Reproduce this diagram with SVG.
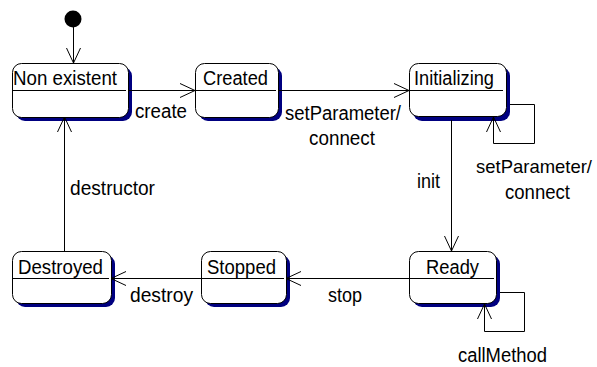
<svg xmlns="http://www.w3.org/2000/svg" width="597" height="367" viewBox="0 0 597 367">
<defs>
<style>
.box{fill:#fff;stroke:#000;stroke-width:1}
.shadow{fill:#000080;stroke:none}
.div{stroke:#000;stroke-width:1}
.t{font-family:"Liberation Sans",Arial,sans-serif;font-size:20px;fill:#000}
.c{fill:none;stroke:#000;stroke-width:1}
</style>
<marker id="arr" viewBox="0 0 16 16" refX="15" refY="8" markerWidth="16" markerHeight="16" markerUnits="userSpaceOnUse" orient="auto">
<path d="M0,1 L15,8 L0,15" fill="none" stroke="#000" stroke-width="1"/>
</marker>
</defs>
<rect width="597" height="367" fill="#fff"/>
<g id="initial">
<circle cx="73" cy="19" r="8.5" fill="#000"/>
</g>
<g id="nonexistent">
<rect class="shadow" x="16" y="67" width="116" height="54" rx="9"/>
<rect class="box" x="12.5" y="63.5" width="116" height="54" rx="9"/>
<line class="div" x1="12.5" y1="90.5" x2="126" y2="90.5"/>
<text class="t" x="13" y="85" textLength="104" lengthAdjust="spacingAndGlyphs">Non existent</text>
</g>
<g id="created">
<rect class="shadow" x="199" y="67" width="83" height="54" rx="9"/>
<rect class="box" x="195.5" y="63.5" width="83" height="54" rx="9"/>
<line class="div" x1="195.5" y1="90.5" x2="276" y2="90.5"/>
<text class="t" x="203" y="85" textLength="65" lengthAdjust="spacingAndGlyphs">Created</text>
</g>
<g id="initializing">
<rect class="shadow" x="413" y="67" width="97" height="54" rx="9"/>
<rect class="box" x="409.5" y="63.5" width="97" height="53" rx="9"/>
<line class="div" x1="409.5" y1="90.5" x2="503" y2="90.5"/>
<text class="t" x="414" y="85" textLength="80" lengthAdjust="spacingAndGlyphs">Initializing</text>
</g>
<g id="destroyed">
<rect class="shadow" x="16" y="255" width="99" height="52" rx="9"/>
<rect class="box" x="12.5" y="251.5" width="99" height="52" rx="9"/>
<line class="div" x1="12.5" y1="278.5" x2="109" y2="278.5"/>
<text class="t" x="18" y="274" textLength="85" lengthAdjust="spacingAndGlyphs">Destroyed</text>
</g>
<g id="stopped">
<rect class="shadow" x="205" y="255" width="85" height="52" rx="9"/>
<rect class="box" x="201.5" y="251.5" width="85" height="52" rx="9"/>
<line class="div" x1="201.5" y1="278.5" x2="284" y2="278.5"/>
<text class="t" x="207" y="274" textLength="69" lengthAdjust="spacingAndGlyphs">Stopped</text>
</g>
<g id="ready">
<rect class="shadow" x="413" y="255" width="87" height="52" rx="9"/>
<rect class="box" x="409.5" y="251.5" width="87" height="52" rx="9"/>
<line class="div" x1="409.5" y1="278.5" x2="494" y2="278.5"/>
<text class="t" x="426" y="274" textLength="53" lengthAdjust="spacingAndGlyphs">Ready</text>
</g>
<g id="connectors">
<line class="c" x1="73.5" y1="27" x2="73.5" y2="63" marker-end="url(#arr)"/>
<line class="c" x1="128" y1="90.5" x2="195" y2="90.5" marker-end="url(#arr)"/>
<line class="c" x1="278" y1="90.5" x2="409" y2="90.5" marker-end="url(#arr)"/>
<line class="c" x1="451.5" y1="120" x2="451.5" y2="251" marker-end="url(#arr)"/>
<polyline class="c" points="510,104.5 534.5,104.5 534.5,143.5 493.5,143.5 493.5,117" marker-end="url(#arr)"/>
<polyline class="c" points="500,292.5 524.5,292.5 524.5,331.5 484.5,331.5 484.5,304" marker-end="url(#arr)"/>
<line class="c" x1="409" y1="278.5" x2="286" y2="278.5" marker-end="url(#arr)"/>
<line class="c" x1="201" y1="278.5" x2="111" y2="278.5" marker-end="url(#arr)"/>
<line class="c" x1="64.5" y1="251" x2="64.5" y2="117" marker-end="url(#arr)"/>
</g>
<g id="labels">
<text class="t" x="135" y="118" textLength="52" lengthAdjust="spacingAndGlyphs">create</text>
<text class="t" x="285" y="120" textLength="116" lengthAdjust="spacingAndGlyphs">setParameter/</text>
<text class="t" x="309" y="145" textLength="66" lengthAdjust="spacingAndGlyphs">connect</text>
<text class="t" x="417" y="188" textLength="23" lengthAdjust="spacingAndGlyphs">init</text>
<text class="t" x="476" y="173" textLength="116" lengthAdjust="spacingAndGlyphs" style="font-size:19px">setParameter/</text>
<text class="t" x="505" y="199" textLength="65" lengthAdjust="spacingAndGlyphs">connect</text>
<text class="t" x="70" y="195" textLength="85" lengthAdjust="spacingAndGlyphs">destructor</text>
<text class="t" x="130" y="302" textLength="63" lengthAdjust="spacingAndGlyphs">destroy</text>
<text class="t" x="328" y="302" textLength="34" lengthAdjust="spacingAndGlyphs">stop</text>
<text class="t" x="458" y="362" textLength="89" lengthAdjust="spacingAndGlyphs">callMethod</text>
</g>
</svg>
